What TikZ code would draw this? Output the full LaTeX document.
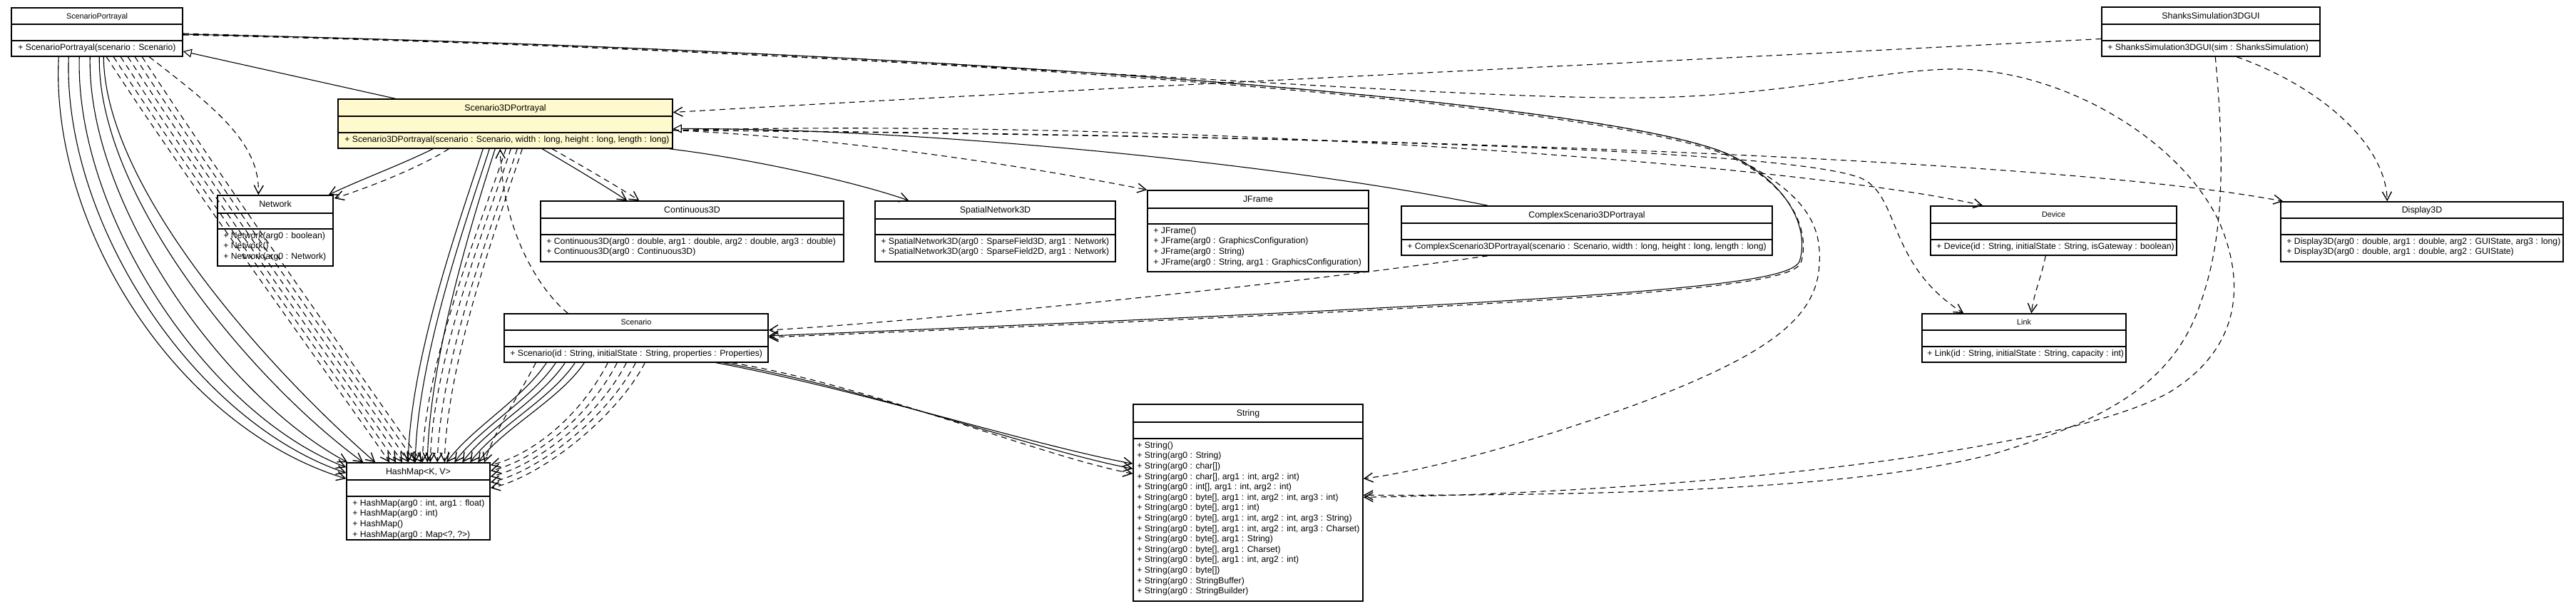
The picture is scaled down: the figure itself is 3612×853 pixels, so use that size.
\documentclass[tikz,border=0pt]{standalone}
\usepackage{fontspec}
\setmainfont{Liberation Sans}
\usetikzlibrary{arrows.meta,calc,fit}
\definecolor{hlfill}{RGB}{255,250,205}
\tikzset{
  classbox/.style={draw=black,line width=0.75pt,fill=white,inner sep=0pt},
  hilite/.style={fill=hlfill},
  ttl/.style={font=\fontsize{6.2}{7}\selectfont,inner sep=0pt,text height=4.45pt,text depth=0pt},
  ttls/.style={font=\fontsize{5.4}{6}\selectfont,inner sep=0pt,text height=3.9pt,text depth=0pt},
  mth/.style={font=\fontsize{6.1}{7.3}\selectfont,inner sep=0pt,align=left,anchor=north west},
  conn/.style={line width=0.55pt,-{Straight Barb[length=6pt,width=6.5pt,line width=0.7pt]}},
  asc/.style={conn},
  dep/.style={conn,dash pattern=on 4pt off 3pt},
  gen/.style={line width=0.55pt,-{Triangle[open,length=6pt,width=6pt,fill=white]}},
}
\newcommand\umlcls[8]{%
  \node[classbox,#8,fit={(#2,#3) (#4,#5)}] (#1) {};
  \draw[line width=0.75pt] (#2,#6) -- (#4,#6) (#2,#7) -- (#4,#7);
}
\begin{document}
\begin{tikzpicture}[x=0.5pt,y=-0.5pt]
\useasboundingbox (0,0) rectangle (3612,853);
\fill[white] (0,0) rectangle (3612,853);

% ---------- classes ----------
\umlcls{sp}{16}{11}{256}{79}{34}{57}{}
\node[ttls] (sp-t) at (136,22.5) {ScenarioPortrayal};
\node[mth] (sp-m) at (25,61) {+ ScenarioPortrayal(scenario : Scenario)};

\umlcls{s3d}{474}{139}{943}{208}{163}{186}{hilite}
\node[ttl] (s3d-t) at (708.5,151) {Scenario3DPortrayal};
\node[mth] (s3d-m) at (483,190) {+ Scenario3DPortrayal(scenario : Scenario, width : long, height : long, length : long)};

\umlcls{net}{305}{274}{467}{373}{299}{321}{}
\node[ttl] (net-t) at (386,286.5) {Network};
\node[mth] (net-m) at (313,325) {+ Network(arg0 : boolean)\\+ Network()\\+ Network(arg0 : Network)};

\umlcls{hm}{486}{649}{687}{757}{673}{696}{}
\node[ttl] (hm-t) at (586.5,661) {HashMap<K, V>};
\node[mth] (hm-m) at (494,700) {+ HashMap(arg0 : int, arg1 : float)\\+ HashMap(arg0 : int)\\+ HashMap()\\+ HashMap(arg0 : Map<?, ?>)};

\umlcls{c3d}{758}{282}{1183}{367}{306}{329}{}
\node[ttl] (c3d-t) at (970.5,294) {Continuous3D};
\node[mth] (c3d-m) at (766,333) {+ Continuous3D(arg0 : double, arg1 : double, arg2 : double, arg3 : double)\\+ Continuous3D(arg0 : Continuous3D)};

\umlcls{sn3d}{1227}{282}{1564}{367}{307}{329}{}
\node[ttl] (sn3d-t) at (1395.5,294.5) {SpatialNetwork3D};
\node[mth] (sn3d-m) at (1235,333) {+ SpatialNetwork3D(arg0 : SparseField3D, arg1 : Network)\\+ SpatialNetwork3D(arg0 : SparseField2D, arg1 : Network)};

\umlcls{jf}{1609}{267}{1919}{381}{292}{314}{}
\node[ttl] (jf-t) at (1764,279.5) {JFrame};
\node[mth] (jf-m) at (1617,318) {+ JFrame()\\+ JFrame(arg0 : GraphicsConfiguration)\\+ JFrame(arg0 : String)\\+ JFrame(arg0 : String, arg1 : GraphicsConfiguration)};

\umlcls{cs3d}{1965}{289}{2485}{358}{313}{336}{}
\node[ttl] (cs3d-t) at (2225,301) {ComplexScenario3DPortrayal};
\node[mth] (cs3d-m) at (1973,340) {+ ComplexScenario3DPortrayal(scenario : Scenario, width : long, height : long, length : long)};

\umlcls{dev}{2707}{289}{3052}{358}{313}{336}{}
\node[ttls] (dev-t) at (2879.5,301) {Device};
\node[mth] (dev-m) at (2715,340) {+ Device(id : String, initialState : String, isGateway : boolean)};

\umlcls{link}{2695}{440}{2981}{508}{463}{486}{}
\node[ttls] (link-t) at (2838,451.5) {Link};
\node[mth] (link-m) at (2702,490) {+ Link(id : String, initialState : String, capacity : int)};

\umlcls{d3d}{3198}{283}{3594}{367}{306}{329}{}
\node[ttl] (d3d-t) at (3396,294.5) {Display3D};
\node[mth] (d3d-m) at (3206,333) {+ Display3D(arg0 : double, arg1 : double, arg2 : GUIState, arg3 : long)\\+ Display3D(arg0 : double, arg1 : double, arg2 : GUIState)};

\umlcls{ssg}{2947}{10}{3253}{79}{34}{57}{}
\node[ttl] (ssg-t) at (3100,22) {ShanksSimulation3DGUI};
\node[mth] (ssg-m) at (2955,61) {+ ShanksSimulation3DGUI(sim : ShanksSimulation)};

\umlcls{scen}{707}{440}{1077}{508}{463}{486}{}
\node[ttls] (scen-t) at (892,451.5) {Scenario};
\node[mth] (scen-m) at (715,490) {+ Scenario(id : String, initialState : String, properties : Properties)};

\umlcls{str}{1589}{567}{1911}{843}{592}{615}{}
\node[ttl] (str-t) at (1750,579.5) {String};
\node[mth] (str-m) at (1594,619) {+ String()\\+ String(arg0 : String)\\+ String(arg0 : char[])\\+ String(arg0 : char[], arg1 : int, arg2 : int)\\+ String(arg0 : int[], arg1 : int, arg2 : int)\\+ String(arg0 : byte[], arg1 : int, arg2 : int, arg3 : int)\\+ String(arg0 : byte[], arg1 : int)\\+ String(arg0 : byte[], arg1 : int, arg2 : int, arg3 : String)\\+ String(arg0 : byte[], arg1 : int, arg2 : int, arg3 : Charset)\\+ String(arg0 : byte[], arg1 : String)\\+ String(arg0 : byte[], arg1 : Charset)\\+ String(arg0 : byte[], arg1 : int, arg2 : int)\\+ String(arg0 : byte[])\\+ String(arg0 : StringBuffer)\\+ String(arg0 : StringBuilder)};

% ---------- connectors ----------
% ScenarioPortrayal -> HashMap (solid)
\draw[asc] ($(sp.south west)+(67,0)$) .. controls (70,320) and (250,600) .. ($(hm.north west)+(0,23)$);
\draw[asc] ($(sp.south west)+(81,0)$) .. controls (88,310) and (270,590) .. ($(hm.north west)+(0,15)$);
\draw[asc] ($(sp.south west)+(96,0)$) .. controls (105,300) and (290,580) .. ($(hm.north west)+(0,7)$);
\draw[asc] ($(sp.south west)+(111,0)$) .. controls (122,290) and (320,560) .. ($(hm.north west)+(2,0)$);
\draw[asc] ($(sp.south west)+(124,0)$) .. controls (137,280) and (360,540) .. ($(hm.north west)+(24,0)$);
\draw[asc] ($(sp.south west)+(130,0)$) .. controls (147,270) and (390,530) .. ($(hm.north west)+(41,0)$);
% ScenarioPortrayal -> HashMap (dashed)
\draw[dep] ($(sp.south west)+(134,0)$) .. controls (260,250) and (457,520) .. ($(hm.north west)+(61,0)$);
\draw[dep] ($(sp.south west)+(144,0)$) .. controls (270,250) and (466,520) .. ($(hm.north west)+(70,0)$);
\draw[dep] ($(sp.south west)+(154,0)$) .. controls (280,250) and (475,520) .. ($(hm.north west)+(79,0)$);
\draw[dep] ($(sp.south west)+(164,0)$) .. controls (290,250) and (484,520) .. ($(hm.north west)+(88,0)$);
\draw[dep] ($(sp.south west)+(174,0)$) .. controls (300,250) and (493,520) .. ($(hm.north west)+(97,0)$);
\draw[dep] ($(sp.south west)+(184,0)$) .. controls (310,250) and (502,520) .. ($(hm.north west)+(106,0)$);
% ScenarioPortrayal -> Network
\draw[dep] ($(sp.south west)+(194,0)$) .. controls (300,150) and (365,200) .. ($(net.north west)+(58,0)$);
% Scenario3DPortrayal -> ScenarioPortrayal (generalization)
\draw[gen] ($(s3d.north west)+(81,0)$) -- ($(sp.east)+(0,27)$);

% Scenario3DPortrayal -> Network
\draw[asc] ($(s3d.south west)+(134,0)$) .. controls (560,232) and (505,252) .. ($(net.north east)+(-7,0)$);
\draw[dep] ($(s3d.south west)+(156,0)$) .. controls (590,234) and (520,262) .. ($(net.north east)+(1,5)$);
% Scenario3DPortrayal -> Continuous3D
\draw[asc] ($(s3d.south west)+(287,0)$) .. controls (800,232) and (850,262) .. ($(c3d.north west)+(122,0)$);
\draw[dep] ($(s3d.south west)+(301,0)$) .. controls (815,232) and (867,262) .. ($(c3d.north west)+(139,0)$);
% Scenario3DPortrayal -> SpatialNetwork3D
\draw[asc] ($(s3d.south east)+(-5,0)$) .. controls (1050,222) and (1200,255) .. ($(sn3d.north west)+(48,0)$);
% Scenario3DPortrayal -> HashMap
\draw[asc] ($(s3d.south west)+(204,0)$) .. controls (648,300) and (575,500) .. ($(hm.north west)+(87,0)$);
\draw[asc] ($(s3d.south west)+(213,0)$) .. controls (657,300) and (585,500) .. ($(hm.north west)+(97,0)$);
\draw[asc] ($(s3d.south west)+(221,0)$) .. controls (665,300) and (602,500) .. ($(hm.north west)+(114,0)$);
\draw[dep] ($(s3d.south west)+(236,0)$) .. controls (680,300) and (596,500) .. ($(hm.north west)+(107,0)$);
\draw[dep] ($(s3d.south west)+(243,0)$) .. controls (687,300) and (607,500) .. ($(hm.north west)+(118,0)$);
\draw[dep] ($(s3d.south west)+(252,0)$) .. controls (696,300) and (617,500) .. ($(hm.north west)+(128,0)$);
\draw[dep] ($(s3d.south west)+(259,0)$) .. controls (703,300) and (627,500) .. ($(hm.north west)+(138,0)$);
% Scenario -> Scenario3DPortrayal
\draw[dep] ($(scen.north west)+(90,0)$) .. controls (760,410) and (705,330) .. ($(s3d.south west)+(228,0)$);

% Scenario -> HashMap
\draw[asc] ($(scen.south west)+(60,0)$) .. controls (732,560) and (662,600) .. ($(hm.north west)+(141,0)$);
\draw[asc] ($(scen.south west)+(73,0)$) .. controls (745,560) and (673,600) .. ($(hm.north west)+(152,0)$);
\draw[asc] ($(scen.south west)+(86,0)$) .. controls (758,560) and (684,600) .. ($(hm.north west)+(163,0)$);
\draw[asc] ($(scen.south west)+(100,0)$) .. controls (772,560) and (695,600) .. ($(hm.north west)+(174,0)$);
\draw[asc] ($(scen.south west)+(113,0)$) .. controls (785,560) and (706,600) .. ($(hm.north west)+(185,0)$);
\draw[dep] ($(scen.south west)+(45,0)$) .. controls (725,560) and (695,600) .. ($(hm.north west)+(194,0)$);
\draw[dep] ($(scen.south west)+(146,0)$) .. controls (813,585) and (745,638) .. ($(hm.north east)+(0,4)$);
\draw[dep] ($(scen.south west)+(159,0)$) .. controls (826,585) and (748,646) .. ($(hm.north east)+(0,12)$);
\draw[dep] ($(scen.south west)+(172,0)$) .. controls (839,585) and (751,654) .. ($(hm.north east)+(0,20)$);
\draw[dep] ($(scen.south west)+(185,0)$) .. controls (852,585) and (754,662) .. ($(hm.north east)+(0,28)$);
\draw[dep] ($(scen.south west)+(198,0)$) .. controls (865,585) and (757,670) .. ($(hm.north east)+(0,36)$);
% Scenario -> String
\draw[asc] ($(scen.south west)+(298,0)$) .. controls (1200,545) and (1450,625) .. ($(str.north west)+(0,84)$);
\draw[asc] ($(scen.south west)+(308,0)$) .. controls (1210,543) and (1455,632) .. ($(str.north west)+(0,91)$);
\draw[dep] ($(scen.south west)+(320,0)$) .. controls (1222,541) and (1460,640) .. ($(str.north west)+(0,98)$);

% ComplexScenario3DPortrayal
\draw[gen] ($(cs3d.north west)+(122,0)$) .. controls (1800,230) and (1300,180) .. ($(s3d.east)+(0,7)$);
\draw[dep] ($(cs3d.south west)+(122,0)$) .. controls (1800,400) and (1300,450) .. ($(scen.east)+(0,-11)$);

% Scenario3DPortrayal -> JFrame, Device, Display3D, Link
\draw[dep] ($(s3d.east)+(0,9)$) .. controls (1200,195) and (1450,235) .. (jf.north west);
\draw[dep] ($(s3d.east)+(0,9)$) .. controls (1700,165) and (2550,235) .. ($(dev.north west)+(74,0)$);
\draw[dep] ($(s3d.east)+(0,9)$) .. controls (2000,190) and (2900,225) .. ($(d3d.north west)+(4,0)$);
\draw[dep] ($(s3d.east)+(0,9)$) .. controls (1700,190) and (2500,205) .. (2610,250) .. controls (2665,275) and (2645,370) .. ($(link.north west)+(59,0)$);

% ScenarioPortrayal long connectors
\draw[asc] ($(sp.east)+(0,3)$) .. controls (1300,70) and (2281,142) .. (2431,220) .. controls (2520,266) and (2535,330) .. (2523,367) .. controls (2505,400) and (2300,420) .. ($(scen.east)+(0,-3)$);
\draw[dep] ($(sp.east)+(0,4)$) .. controls (1300,72) and (2283,145) .. (2433,223) .. controls (2522,269) and (2537,332) .. (2525,369) .. controls (2507,402) and (2300,423) .. ($(scen.east)+(0,-1)$);
\draw[dep] ($(sp.east)+(0,3)$) .. controls (1300,70) and (2281,142) .. (2431,220) .. controls (2525,268) and (2555,310) .. (2551,370) .. controls (2548,450) and (2470,500) .. (2300,565) .. controls (2150,620) and (2000,660) .. ($(str.north east)+(0,105)$);
\draw[dep] ($(sp.east)+(0,2)$) .. controls (1300,75) and (2000,140) .. (2305,137) .. controls (2500,135) and (2650,95) .. (2747,97) .. controls (2900,100) and (3060,200) .. (3112,312) .. controls (3150,400) and (3140,490) .. (3042,550) .. controls (2900,630) and (2400,690) .. ($(str.north east)+(0,131)$);

% ShanksSimulation3DGUI
\draw[dep] ($(ssg.west)+(0,10)$) .. controls (2300,88) and (1500,125) .. ($(s3d.east)+(0,-16)$);
\draw[dep] ($(ssg.south west)+(160,0)$) .. controls (3122,250) and (3115,350) .. (3080,440) .. controls (3040,540) and (2950,590) .. (2800,635) .. controls (2600,690) and (2200,695) .. ($(str.north east)+(0,128)$);
\draw[dep] ($(ssg.south west)+(190,0)$) .. controls (3250,120) and (3345,200) .. ($(d3d.north west)+(150,0)$);

% Device -> Link
\draw[dep] ($(dev.south west)+(162,0)$) .. controls (2862,390) and (2852,410) .. ($(link.north west)+(154,0)$);
\end{tikzpicture}
\end{document}
